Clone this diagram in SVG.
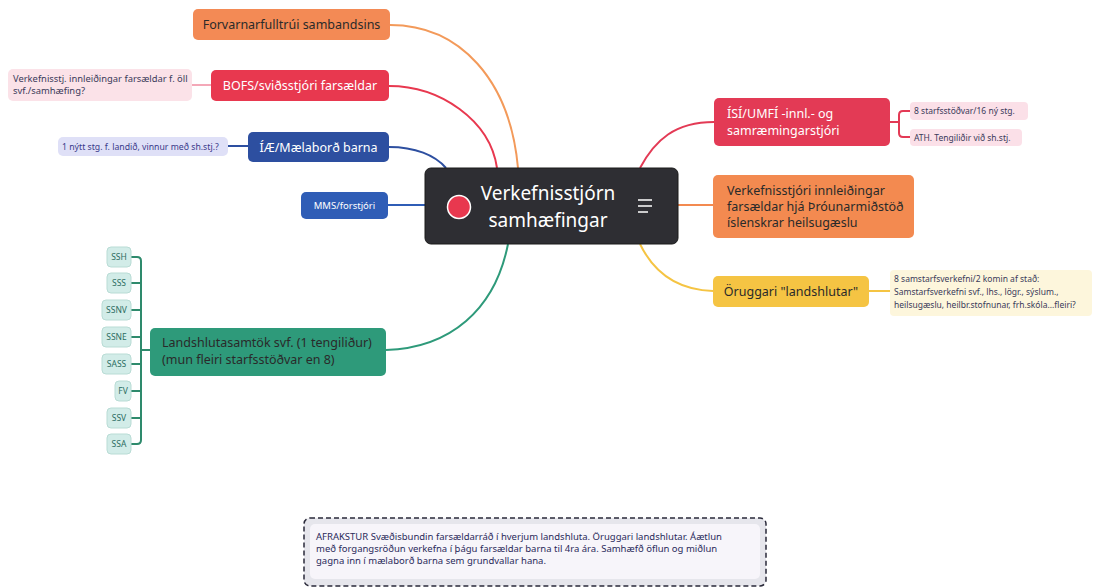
<svg xmlns="http://www.w3.org/2000/svg" width="1094" height="588" viewBox="0 0 1094 588">
<style>
text{font-family:"Noto Sans","Liberation Sans",sans-serif;}
.c{fill:none;stroke-width:2;}
.t{font-size:12.5px;}
.w{fill:#ffffff;}
.d{fill:#2a2a2a;}
.n{font-size:9.4px;fill:#3a3a5a;}
.s{font-size:8.5px;fill:#2d6d62;text-anchor:middle;}
.sb{fill:#d2ece8;stroke:#b9dcd5;stroke-width:1;}
.a{font-size:9.5px;fill:#2a2a5a;}
</style>
<rect width="1094" height="588" fill="#ffffff"/>
<g id="connectors">
<path class="c" stroke="#f39a5a" d="M390,25 C460,25 510,80 518,168"/>
<path class="c" stroke="#e8384f" d="M389,86 C440,86 490,120 497,168"/>
<path class="c" stroke="#2d4fa0" d="M389,147 C415,147 435,155 446,168"/>
<path class="c" stroke="#2f5db6" d="M388,205 L425,205"/>
<path class="c" stroke="#2e9a7a" d="M508,244 C495,310 450,348 386,350"/>
<path class="c" stroke="#e33a55" d="M640,168 C655,140 675,122 714,122"/>
<path class="c" stroke="#f38a50" d="M678,205 L713,205"/>
<path class="c" stroke="#f5c443" d="M640,244 C655,275 680,290 713,291"/>
<path class="c" stroke="#f4a8b8" d="M192,85 L211,85"/>
<path class="c" stroke="#2d4fa0" d="M228,146 L248,146"/>
<path class="c" stroke="#e33a55" d="M890,122 L898,122 M910,111 L903,111 Q899,111 899,115 L899,133 Q899,137 903,137 L910,137" stroke-width="1.6"/>
<path class="c" stroke="#f5c443" d="M869,291 L890,291"/>
<path class="c" stroke="#2e8a6c" stroke-width="1.6" d="M131,257 L137,257 Q141,257 141,261 L141,440 Q141,444 137,444 L131,444 M131,283 L141,283 M131,310 L141,310 M131,337 L141,337 M131,364 L141,364 M131,391 L141,391 M131,418 L141,418 M141,350 L150,350"/>
</g>
<g id="center">
<rect x="425" y="168" width="253" height="76" rx="6" fill="#2e2e33" stroke="#1a1a1a" stroke-width="1"/>
<circle cx="459" cy="207" r="11.5" fill="#e8384f" stroke="#ffffff" stroke-width="1.5"/>
<text x="548" y="200" font-size="19" class="w" text-anchor="middle">Verkefnisstjórn</text>
<text x="548" y="227" font-size="19" class="w" text-anchor="middle">samhæfingar</text>
<path d="M638,200 h14 M638,206 h14 M638,212 h10" stroke="#ffffff" stroke-width="1.6" fill="none"/>
</g>
<g id="forvarnar">
<rect x="193" y="9" width="197" height="31" rx="5" fill="#f38a55"/>
<text x="291.5" y="29" class="t d" text-anchor="middle">Forvarnarfulltrúi sambandsins</text>
</g>
<g id="bofs">
<rect x="211" y="70" width="178" height="31" rx="5" fill="#e8384f"/>
<text x="300" y="90" class="t w" text-anchor="middle">BOFS/sviðsstjóri farsældar</text>
</g>
<g id="bofs-note">
<rect x="8" y="69" width="184" height="32" rx="5" fill="#fbe2e8"/>
<text x="13" y="82" class="n">Verkefnisstj. innleiðingar farsældar f. öll</text>
<text x="13" y="94" class="n">svf./samhæfing?</text>
</g>
<g id="iae">
<rect x="248" y="132" width="141" height="30" rx="5" fill="#2d4fa0"/>
<text x="318.5" y="152" class="t w" text-anchor="middle">ÍÆ/Mælaborð barna</text>
</g>
<g id="iae-note">
<rect x="58" y="137" width="170" height="19" rx="5" fill="#dfe0f7"/>
<text x="62" y="150" class="n" style="fill:#3a3a8a;font-size:8.7px">1 nýtt stg. f. landið, vinnur með sh.stj.?</text>
</g>
<g id="mms">
<rect x="301" y="192" width="87" height="27" rx="5" fill="#2f5db6"/>
<text x="344.5" y="209" font-size="9.5" class="w" text-anchor="middle">MMS/forstjóri</text>
</g>
<g id="isi">
<rect x="714" y="98" width="176" height="48" rx="5" fill="#e33a55"/>
<text x="727" y="118" class="t w">ÍSÍ/UMFÍ -innl.- og</text>
<text x="727" y="135" class="t w">samræmingarstjóri</text>
</g>
<g id="isi-note1">
<rect x="910" y="102" width="118" height="18" rx="4" fill="#fbe0e8"/>
<text x="914" y="114" class="n" style="font-size:8.5px">8 starfsstöðvar/16 ný stg.</text>
</g>
<g id="isi-note2">
<rect x="910" y="129" width="112" height="17" rx="4" fill="#fbe0e8"/>
<text x="914" y="141" class="n" style="font-size:8.5px">ATH. Tengiliðir við sh.stj.</text>
</g>
<g id="throun">
<rect x="713" y="175" width="201" height="63" rx="5" fill="#f38a50"/>
<text x="727" y="195" class="t d">Verkefnisstjóri innleiðingar</text>
<text x="727" y="211" class="t d">farsældar hjá Þróunarmiðstöð</text>
<text x="727" y="227" class="t d">íslenskrar heilsugæslu</text>
</g>
<g id="oruggari">
<rect x="713" y="276" width="156" height="31" rx="5" fill="#f5c443"/>
<text x="791" y="296" class="t d" text-anchor="middle">Öruggari "landshlutar"</text>
</g>
<g id="oruggari-note">
<rect x="890" y="270" width="202" height="46" rx="4" fill="#fdf6dc"/>
<text x="894" y="282" class="n" style="font-size:8.5px">8 samstarfsverkefni/2 komin af stað:</text>
<text x="894" y="295" class="n" style="font-size:8.5px">Samstarfsverkefni svf., lhs., lögr., sýslum.,</text>
<text x="894" y="308" class="n" style="font-size:8.5px">heilsugæslu, heilbr.stofnunar, frh.skóla...fleiri?</text>
</g>
<g id="landshluta">
<rect x="150" y="328" width="236" height="48" rx="5" fill="#2e9a7a"/>
<text x="162" y="347" class="t d">Landshlutasamtök svf. (1 tengiliður)</text>
<text x="162" y="364" class="t d">(mun fleiri starfsstöðvar en 8)</text>
</g>
<g id="ssh"><rect class="sb" x="107" y="247" width="24" height="20" rx="4"/><text class="s" x="119" y="260">SSH</text></g>
<g id="sss"><rect class="sb" x="107" y="273" width="24" height="20" rx="4"/><text class="s" x="119" y="286">SSS</text></g>
<g id="ssnv"><rect class="sb" x="102" y="300" width="29" height="20" rx="4"/><text class="s" x="116.5" y="313">SSNV</text></g>
<g id="ssne"><rect class="sb" x="102" y="327" width="29" height="20" rx="4"/><text class="s" x="116.5" y="340">SSNE</text></g>
<g id="sass"><rect class="sb" x="102" y="354" width="29" height="20" rx="4"/><text class="s" x="116.5" y="367">SASS</text></g>
<g id="fv"><rect class="sb" x="115" y="381" width="16" height="20" rx="4"/><text class="s" x="123" y="394">FV</text></g>
<g id="ssv"><rect class="sb" x="107" y="408" width="24" height="20" rx="4"/><text class="s" x="119" y="421">SSV</text></g>
<g id="ssa"><rect class="sb" x="107" y="434" width="24" height="20" rx="4"/><text class="s" x="119" y="447">SSA</text></g>
<g id="afrakstur">
<rect x="304" y="518" width="462" height="68" rx="6" fill="#e6e6ec" stroke="#2a2a3a" stroke-width="1.5" stroke-dasharray="5,3"/>
<rect x="310" y="524" width="450" height="55" rx="5" fill="#f7f5fa"/>
<text x="316" y="540" class="a">AFRAKSTUR Svæðisbundin farsældarráð í hverjum landshluta. Öruggari landshlutar. Áætlun</text>
<text x="316" y="552" class="a">með forgangsröðun verkefna í þágu farsældar barna til 4ra ára. Samhæfð öflun og miðlun</text>
<text x="316" y="564" class="a">gagna inn í mælaborð barna sem grundvallar hana.</text>
</g>
</svg>
